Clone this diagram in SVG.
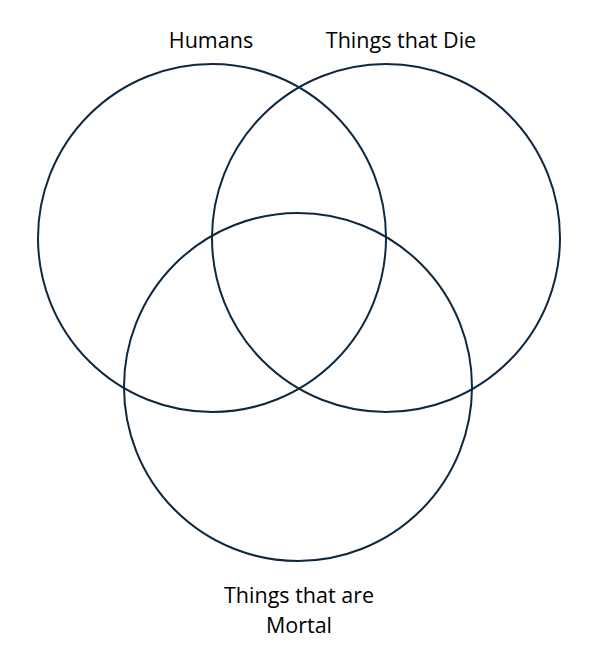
<svg xmlns="http://www.w3.org/2000/svg" width="591" height="654" viewBox="0 0 591 654">
<style>
.c{fill:none;stroke:#0e2841;stroke-width:2}
.t{font-family:"Open Sans","Liberation Sans",sans-serif;font-size:21.5px;fill:#000;text-anchor:middle}
</style>
<rect width="591" height="654" fill="#fff"/>
<g id="humans"><circle class="c" cx="212" cy="238" r="174"/><text class="t" x="211" y="48">Humans</text></g>
<g id="die"><circle class="c" cx="386" cy="238" r="174"/><text class="t" x="401" y="48">Things that Die</text></g>
<g id="mortal"><circle class="c" cx="298" cy="387" r="174"/><text class="t" x="299" y="603">Things that are</text><text class="t" x="299" y="633">Mortal</text></g>
<g id="connectors"/>
</svg>
